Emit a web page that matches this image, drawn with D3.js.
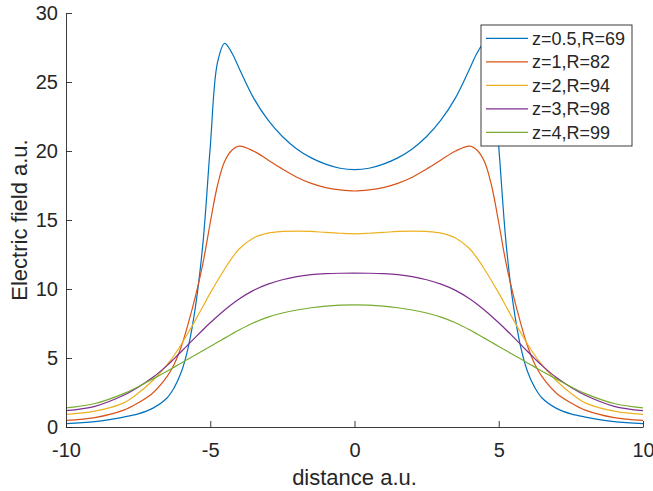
<!DOCTYPE html>
<html>
<head>
<meta charset="utf-8">
<script src="https://cdn.jsdelivr.net/npm/d3@7"></script>
<style>
  body { margin: 0; background: #fff; }
  text { font-family: "Liberation Sans", Arial, sans-serif; fill: #262626; }
</style>
</head>
<body>
<script>
const width = 653;
const height = 491;
const margin = {left: 66, right: 10, top: 13, bottom: 64};

// distance a.u.
const xs = [-10,-9,-8,-7.5,-7,-6.5,-6.25,-6,-5.75,-5.5,-5.25,-5,-4.75,-4.5,-4.25,-4,-3.5,-3,-2.5,-2,-1.5,-1,-0.5,0,
            0.5,1,1.5,2,2.5,3,3.5,4,4.25,4.5,4.75,5,5.25,5.5,5.75,6,6.25,6.5,7,7.5,8,9,10];

// electric field a.u.
const z05 = [0.24,0.39,0.72,0.95,1.35,2.1,2.85,4.0,5.9,8.9,13.4,20.3,26.4,27.8,27.1,26.0,23.85,22.25,21.05,20.15,19.5,19.05,18.75,18.65,
             18.75,19.05,19.5,20.15,21.05,22.25,23.85,26.0,27.1,27.8,26.4,20.3,13.4,8.9,5.9,4.0,2.85,2.1,1.35,0.95,0.72,0.39,0.24];
const z1 = [0.48,0.68,1.22,1.75,2.45,3.65,4.55,5.85,7.6,9.6,11.9,14.8,17.5,19.25,20.05,20.35,20.0,19.35,18.7,18.1,17.65,17.35,17.18,17.1,
            17.18,17.35,17.65,18.1,18.7,19.35,20.0,20.35,20.05,19.25,17.5,14.8,11.9,9.6,7.6,5.85,4.55,3.65,2.45,1.75,1.22,0.68,0.48];
const z2 = [0.92,1.15,1.75,2.45,3.35,4.5,5.2,6.0,6.88,7.8,8.75,9.7,10.6,11.45,12.23,12.9,13.7,14.05,14.17,14.2,14.17,14.1,14.04,14.0,
            14.04,14.1,14.17,14.2,14.17,14.05,13.7,12.9,12.23,11.45,10.6,9.7,8.75,7.8,6.88,6.0,5.2,4.5,3.35,2.45,1.75,1.15,0.92];
const z3 = [1.18,1.5,2.3,2.88,3.58,4.45,4.95,5.47,6.0,6.53,7.05,7.55,8.03,8.48,8.9,9.28,9.9,10.35,10.67,10.9,11.04,11.11,11.14,11.15,
            11.14,11.11,11.04,10.9,10.67,10.35,9.9,9.28,8.9,8.48,8.03,7.55,7.05,6.53,6.0,5.47,4.95,4.45,3.58,2.88,2.3,1.5,1.18];
const z4 = [1.38,1.7,2.42,2.92,3.47,4.04,4.34,4.64,4.94,5.24,5.54,5.84,6.14,6.44,6.74,7.03,7.55,7.96,8.26,8.48,8.64,8.76,8.83,8.85,
            8.83,8.76,8.64,8.48,8.26,7.96,7.55,7.03,6.74,6.44,6.14,5.84,5.54,5.24,4.94,4.64,4.34,4.04,3.47,2.92,2.42,1.7,1.38];

const seriesNames = ['z=0.5,R=69','z=1,R=82','z=2,R=94','z=3,R=98','z=4,R=99'];
const seriesValues = [z05, z1, z2, z3, z4];
const colors = ['#0072BD','#D95319','#EDB120','#7E2F8E','#77AC30'];

const xTicks = [-10,-5,0,5,10];
const yTicks = [0,5,10,15,20,25,30];

const svg = d3.select('body')
  .append('svg')
  .attr('width', width)
  .attr('height', height);

const x = d3.scaleLinear()
  .domain([-10, 10])
  .range([margin.left, width - margin.right]);

const y = d3.scaleLinear()
  .domain([0, 30])
  .range([height - margin.bottom, margin.top]);

svg.append('clipPath')
  .attr('id', 'plot-clip')
  .append('rect')
  .attr('x', margin.left)
  .attr('y', margin.top)
  .attr('width', width - margin.left - margin.right)
  .attr('height', height - margin.top - margin.bottom);

const line = d3.line()
  .x((d, i) => x(xs[i]))
  .y(d => y(d))
  .curve(d3.curveCatmullRom.alpha(0.5));

svg.append('g')
  .attr('clip-path', 'url(#plot-clip)')
  .selectAll('path')
  .data(seriesValues)
  .enter()
  .append('path')
  .attr('d', d => line(d))
  .attr('fill', 'none')
  .attr('stroke', (d, i) => colors[i])
  .attr('stroke-width', 1.2);

// axes, ticks point inwards like matlab
const xAxis = svg.append('g')
  .attr('transform', `translate(0,${height - margin.bottom})`)
  .call(d3.axisBottom(x).tickValues(xTicks)
    .tickSizeInner(-6).tickSizeOuter(0).tickPadding(16));

const yAxis = svg.append('g')
  .attr('transform', `translate(${margin.left},0)`)
  .call(d3.axisLeft(y).tickValues(yTicks)
    .tickSizeInner(-6).tickSizeOuter(0).tickPadding(8));

[xAxis, yAxis].forEach(g => {
  g.select('.domain').attr('stroke', '#262626').attr('stroke-width', 0.9);
  g.selectAll('.tick line').attr('stroke', '#262626').attr('stroke-width', 0.9);
  g.selectAll('.tick text')
    .text(d => String(d))
    .attr('fill', '#262626')
    .style('font-family', '"Liberation Sans", Arial, sans-serif')
    .style('font-size', '20px');
});

svg.append('text')
  .text('distance a.u.')
  .attr('x', (margin.left + width - margin.right) / 2)
  .attr('y', 485)
  .attr('text-anchor', 'middle')
  .style('font-size', '22px');

svg.append('text')
  .text('Electric field a.u.')
  .attr('transform', 'rotate(-90)')
  .attr('x', -(margin.top + height - margin.bottom) / 2)
  .attr('y', 27)
  .attr('text-anchor', 'middle')
  .style('font-size', '22px');

// legend
const legend = svg.append('g');
legend.append('rect')
  .attr('x', 481)
  .attr('y', 25)
  .attr('width', 151)
  .attr('height', 121)
  .attr('fill', '#fff')
  .attr('stroke', '#262626')
  .attr('stroke-width', 0.9);

const rows = legend.selectAll('g.row')
  .data(seriesNames)
  .enter()
  .append('g')
  .attr('class', 'row')
  .attr('transform', (d, i) => `translate(0,${38.3 + i * 23.5})`);

rows.append('line')
  .attr('x1', 486)
  .attr('x2', 528)
  .attr('stroke', (d, i) => colors[i])
  .attr('stroke-width', 1.2);

rows.append('text')
  .text(d => d)
  .attr('x', 532)
  .attr('dy', '0.35em')
  .style('font-size', '18px');
</script>
</body>
</html>
